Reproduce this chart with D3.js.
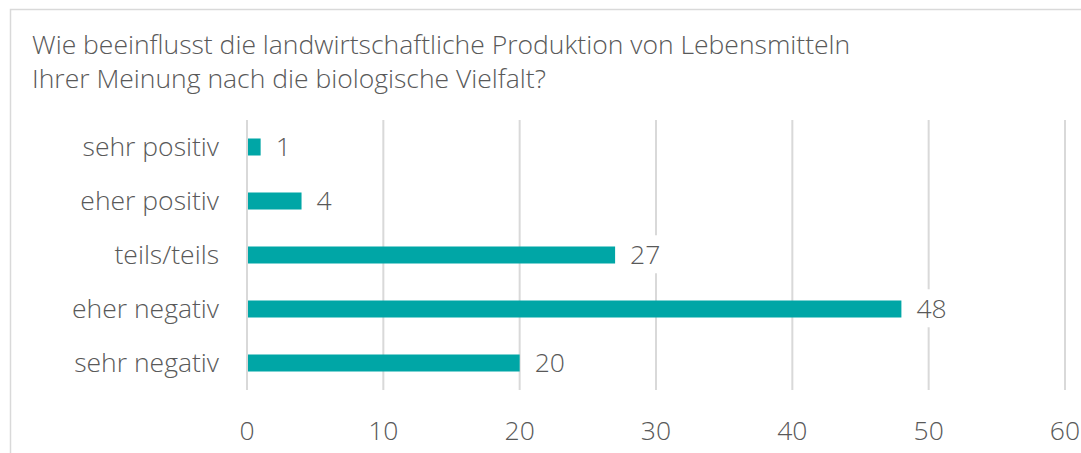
<!DOCTYPE html>
<html>
<head>
<meta charset="utf-8">
<script src="https://cdn.jsdelivr.net/npm/d3@7"></script>
<style>
  body { margin: 0; background: #fff; }
  svg { display: block; }
  text { font-family: "Open Sans", sans-serif; font-weight: 300; fill: #595959; font-size: 26.5px; }
</style>
</head>
<body>
<div id="chart"></div>
<script>
// answers and counts
var categories = ["sehr positiv", "eher positiv", "teils/teils", "eher negativ", "sehr negativ"];
var counts = [1, 4, 27, 48, 20];
var ticks = [0, 10, 20, 30, 40, 50, 60];
var titleLines = ["Wie beeinflusst die landwirtschaftliche Produktion von Lebensmitteln",
                  "Ihrer Meinung nach die biologische Vielfalt?"];

var W = 1081, H = 453;
var svg = d3.select("#chart").append("svg").attr("width", W).attr("height", H);

// frame of the chart box (cut off on right and bottom)
svg.append("path")
  .attr("d", "M10.5," + H + " V9.5 H" + W)
  .attr("fill", "none")
  .attr("stroke", "#d9d9d9")
  .attr("stroke-width", 1.5);

svg.selectAll(".title")
  .data(titleLines)
  .enter().append("text")
  .attr("x", 32)
  .attr("y", function (d, i) { return 54 + i * 34; })
  .text(function (d) { return d; });

var x = d3.scaleLinear().domain([0, 60]).range([247, 1065]);
var y = d3.scaleBand().domain(categories).range([120, 390]).paddingInner(0.685).paddingOuter(0.3425);

// gridlines
svg.selectAll(".grid")
  .data(ticks)
  .enter().append("line")
  .attr("x1", function (d) { return x(d); })
  .attr("x2", function (d) { return x(d); })
  .attr("y1", 120)
  .attr("y2", 390)
  .attr("stroke", "#d9d9d9")
  .attr("stroke-width", 2);

svg.selectAll(".tick")
  .data(ticks)
  .enter().append("text")
  .attr("x", function (d) { return x(d); })
  .attr("y", 440)
  .attr("text-anchor", "middle")
  .text(function (d) { return d; });

svg.selectAll(".cat")
  .data(categories)
  .enter().append("text")
  .attr("x", 219)
  .attr("y", function (d) { return y(d) + y.bandwidth() / 2; })
  .attr("dy", "0.35em")
  .attr("text-anchor", "end")
  .text(function (d) { return d; });

var data = categories.map(function (c, i) { return { cat: c, val: counts[i] }; });

svg.selectAll(".bar")
  .data(data)
  .enter().append("rect")
  .attr("x", x(0) + 1)
  .attr("y", function (d) { return y(d.cat); })
  .attr("width", function (d) { return x(d.val) - x(0) - 1; })
  .attr("height", y.bandwidth())
  .attr("fill", "#00a6a6");

// value labels with white background
var lab = svg.selectAll(".lab")
  .data(data)
  .enter().append("g");
lab.append("rect").attr("fill", "#fff");
lab.append("text")
  .attr("x", function (d) { return x(d.val) + 15; })
  .attr("y", function (d) { return y(d.cat) + y.bandwidth() / 2; })
  .attr("dy", "0.35em")
  .text(function (d) { return d.val; });
lab.each(function () {
  var g = d3.select(this);
  var b = g.select("text").node().getBBox();
  g.select("rect")
    .attr("x", b.x - 2).attr("y", b.y - 1)
    .attr("width", b.width + 4).attr("height", b.height + 2);
});
</script>
</body>
</html>
